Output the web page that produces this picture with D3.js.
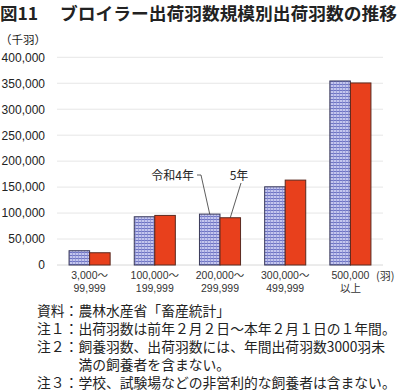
<!DOCTYPE html>
<html><head><meta charset="utf-8">
<script src="https://cdn.jsdelivr.net/npm/d3@7"></script>
<style>
body{margin:0;background:#fff;}
svg{display:block;font-family:"Noto Sans CJK JP","Noto Sans",sans-serif;}
</style></head>
<body><svg id="c" width="400" height="391"></svg>
<script>
const categories = [["3,000～","99,999"],["100,000～","199,999"],["200,000～","299,999"],["300,000～","499,999"],["500,000","以上"]];
const seriesNames = ["令和4年","5年"];
const r4Values = [27500, 92900, 98000, 150600, 354400];
const r5Values = [23600, 95500, 91000, 163500, 350600];
const yTicks = [0,50000,100000,150000,200000,250000,300000,350000,400000];
const notes = [
  "資料：農林水産省「畜産統計」",
  "注１：出荷羽数は前年２月２日～本年２月１日の１年間。",
  "注２：飼養羽数、出荷羽数には、年間出荷羽数3000羽未",
  "　　　満の飼養者を含まない。",
  "注３：学校、試験場などの非営利的な飼養者は含まない。"
];

(function(){
const svg = d3.select("#c");
const defs = svg.append("defs");
const pat = defs.append("pattern").attr("id","grid").attr("patternUnits","userSpaceOnUse")
  .attr("width",3).attr("height",3);
pat.append("rect").attr("width",3).attr("height",3).attr("fill","#c4c6ee");
pat.append("rect").attr("x",0).attr("y",0).attr("width",3).attr("height",1).attr("fill","#6e74c4");
pat.append("rect").attr("x",0).attr("y",0).attr("width",0.7).attr("height",3).attr("fill","#8a8fd2");

// title
svg.append("text").attr("x",0).attr("y",20).attr("font-size",17.5).attr("font-weight","bold")
  .attr("fill","#222").text("図11");
svg.append("text").attr("x",60).attr("y",20).attr("font-size",17.5).attr("font-weight","bold")
  .attr("fill","#222").attr("textLength",337).attr("lengthAdjust","spacingAndGlyphs")
  .text("ブロイラー出荷羽数規模別出荷羽数の推移");
svg.append("text").attr("x",0).attr("y",44).attr("font-size",11.5).attr("fill","#222").text("（千羽）");

const pl=57, pr=383, pt=57.3, pb=265;
const x0 = d3.scaleBand().domain(d3.range(categories.length)).range([pl,pr]).paddingInner(0.37).paddingOuter(0.185);
const x1 = d3.scaleBand().domain([0,1]).range([0,x0.bandwidth()]);
const y = d3.scaleLinear().domain([0,400000]).range([pb,pt]);

// grid
svg.append("g").selectAll("line").data(yTicks).join("line")
  .attr("x1",pl).attr("x2",pr).attr("y1",d=>y(d)).attr("y2",d=>y(d))
  .attr("stroke",d=>d===0?"#d8d8d8":"#e6e6e6").attr("stroke-width",1);

const yAxis = d3.axisLeft(y).tickValues(yTicks).tickFormat(d3.format(",")).tickSize(0).tickPadding(0);
const ga = svg.append("g").attr("transform",`translate(45,0)`).call(yAxis);
ga.select(".domain").remove();
ga.selectAll("text").attr("font-size",12).attr("fill","#222").attr("font-family","'Liberation Sans',Arial,sans-serif");

const series = [r4Values, r5Values];
const fills = ["url(#grid)","#e8401c"];
series.forEach((vals,si)=>{
  svg.append("g").selectAll("rect").data(vals).join("rect")
    .attr("x",(d,i)=>x0(i)+x1(si))
    .attr("y",d=>y(d))
    .attr("width",x1.bandwidth())
    .attr("height",d=>pb-y(d))
    .attr("fill",fills[si])
    .attr("stroke",si===0?"#3a3a5a":"#5a2a20").attr("stroke-width",1);
});

// x labels
categories.forEach((c,i)=>{
  const cx = x0(i)+x0.bandwidth()/2;
  svg.append("text").attr("x",cx).attr("y",279).attr("text-anchor","middle").attr("font-size",10.5)
    .attr("fill","#333").attr("font-family","'Liberation Sans',Arial,'Noto Sans CJK JP',sans-serif").text(c[0]);
  svg.append("text").attr("x",cx).attr("y",291.5).attr("text-anchor","middle").attr("font-size",10.5)
    .attr("fill","#333").attr("font-family","'Liberation Sans',Arial,'Noto Sans CJK JP',sans-serif").text(c[1]);
});
svg.append("text").attr("x",376).attr("y",279.5).attr("font-size",11).attr("fill","#333").text("(羽)");

// annotations on group 3
const g3 = 2;
const bx0 = x0(g3)+x1(0)+x1.bandwidth()/2, by0 = y(r4Values[g3]);
const bx1 = x0(g3)+x1(1)+x1.bandwidth()/2, by1 = y(r5Values[g3]);
svg.append("text").attr("x",194).attr("y",180).attr("text-anchor","end").attr("font-size",12).attr("fill","#222").text(seriesNames[0]);
svg.append("path").attr("d",`M197,175 L201,175 L${bx0},${by0}`).attr("fill","none").attr("stroke","#333").attr("stroke-width",0.8);
svg.append("text").attr("x",239).attr("y",180).attr("text-anchor","middle").attr("font-size",12).attr("fill","#222").text(seriesNames[1]);
svg.append("path").attr("d",`M241,183 L${bx1},${by1}`).attr("fill","none").attr("stroke","#333").attr("stroke-width",0.8);

// notes
notes.forEach((t,i)=>{
  svg.append("text").attr("x",37).attr("y",316+i*18.1).attr("font-size",13.8).attr("fill","#222").text(t);
});
})();
</script></body></html>
